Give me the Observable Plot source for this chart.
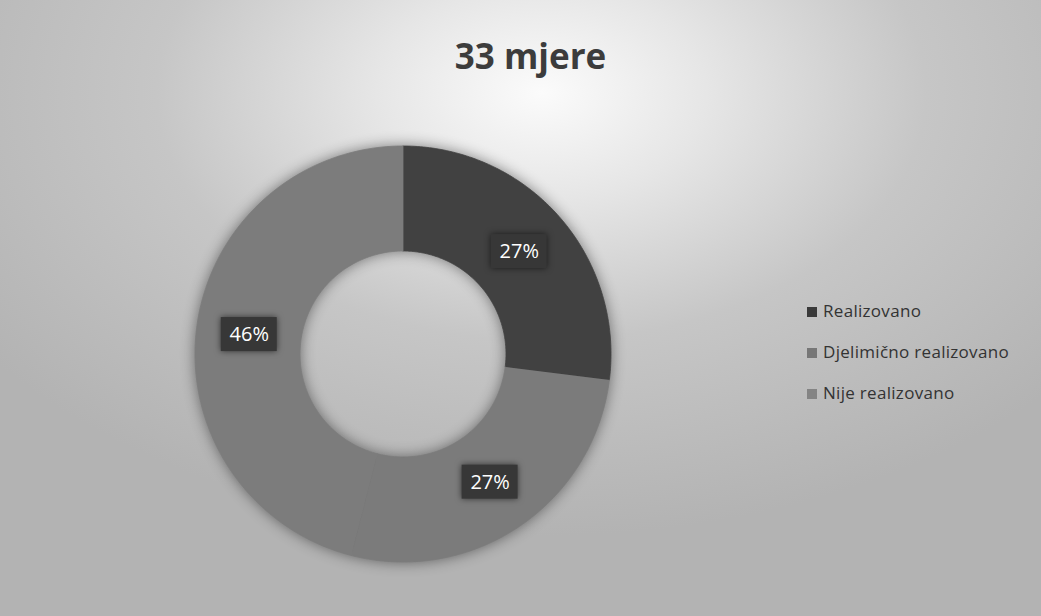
<!DOCTYPE html>
<html>
<head>
<meta charset="utf-8">
<script src="https://cdn.jsdelivr.net/npm/d3@7"></script>
<script src="https://cdn.jsdelivr.net/npm/@observablehq/plot@0.6"></script>
<style>
  html, body { margin: 0; padding: 0; }
  #wrap {
    position: relative; width: 1041px; height: 616px; overflow: hidden;
    background: radial-gradient(ellipse 66% 72% at 52% 15%, #fbfbfb 0%, #e6e6e6 24%, #c6c6c6 56%, #b3b3b3 100%);
    font-family: "Open Sans", sans-serif;
  }
  #title {
    height: 100px; line-height: 112px; text-align: center; padding-left: 20px;
    font-size: 35px; font-weight: 700; color: #3c3c3c;
  }
  #legend { position: absolute; left: 807px; top: 296px; font-size: 17px; letter-spacing: 0.3px; color: #333; }
  #legend div { height: 41px; line-height: 30px; white-space: nowrap; }
  #legend span.sw { display: inline-block; width: 10px; height: 10px; margin-right: 6px; vertical-align: 0px; }
  g[aria-label="line"] { filter: drop-shadow(0 0 7px rgba(0,0,0,0.45)); }
  g[aria-label="rect"] { filter: drop-shadow(0 0 3px rgba(0,0,0,0.6)); }
</style>
</head>
<body>
<div id="wrap">
  <div id="title">33 mjere</div>
  <div id="chart"></div>
  <div id="legend"></div>
</div>
<script>
const categories = ["Realizovano", "Djelimično realizovano", "Nije realizovano"];
const values = [27, 27, 46];
const labels = ["27%", "27%", "46%"];
const colors = ["#414141", "#7b7b7b", "#7c7c7c"];
const legendColors = ["#3a3a3a", "#777777", "#848484"];

const W = 1041, H = 516;
const R = 208;            // outer radius in px
const innerFrac = 103 / 208;
const cx = 402.5, cy = 253.5;
const total = d3.sum(values);

const slices = [];
let acc = 0;
categories.forEach((c, i) => {
  const a0 = acc / total * 2 * Math.PI;
  acc += values[i];
  const a1 = acc / total * 2 * Math.PI;
  slices.push({cat: c, a0, a1, label: labels[i]});
});

const polyPts = [];
for (const s of slices) {
  const n = 120;
  for (let k = 0; k <= n; k++) {
    const a = s.a0 + (s.a1 - s.a0) * k / n;
    polyPts.push({cat: s.cat, x: Math.sin(a), y: Math.cos(a)});
  }
  for (let k = n; k >= 0; k--) {
    const a = s.a0 + (s.a1 - s.a0) * k / n;
    polyPts.push({cat: s.cat, x: innerFrac * Math.sin(a), y: innerFrac * Math.cos(a)});
  }
}

const labR = 0.745;
const labData = slices.map(s => {
  const m = (s.a0 + s.a1) / 2;
  return {cat: s.cat, label: s.label, x: labR * Math.sin(m), y: labR * Math.cos(m)};
});
const bw = 28 / R, bh = 17 / R;

const plot = Plot.plot({
  width: W, height: H,
  margin: 0,
  style: {background: "transparent", overflow: "visible"},
  x: {domain: [-cx / R, (W - cx) / R], axis: null},
  y: {domain: [-(H - cy) / R, cy / R], axis: null},
  color: {domain: categories, range: colors},
  marks: [
    Plot.line(polyPts, {x: "x", y: "y", z: "cat", fill: "cat", stroke: "cat", strokeWidth: 0.8, curve: "linear"}),
    Plot.rect(labData, {x1: d => d.x - bw, x2: d => d.x + bw, y1: d => d.y - bh, y2: d => d.y + bh, fill: "#373737"}),
    Plot.text(labData, {x: "x", y: "y", text: "label", fill: "white", fontSize: 20, fontFamily: "Open Sans, sans-serif"})
  ]
});
document.getElementById("chart").appendChild(plot);

const leg = document.getElementById("legend");
categories.forEach((c, i) => {
  const d = document.createElement("div");
  d.innerHTML = `<span class="sw" style="background:${legendColors[i]}"></span>${c}`;
  leg.appendChild(d);
});
</script>
</body>
</html>
